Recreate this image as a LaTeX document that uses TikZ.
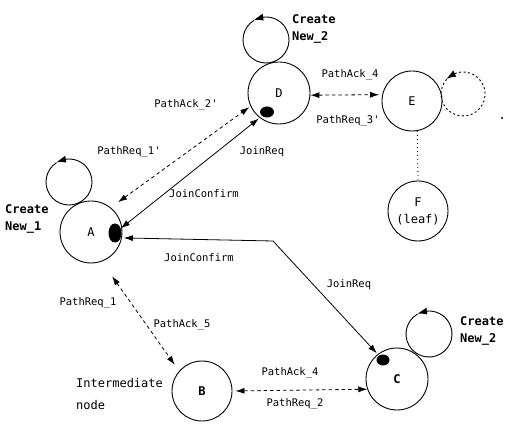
\documentclass[tikz,border=0pt]{standalone}
\usepackage{fontspec}
\setmonofont{DejaVu Sans Mono}
\usetikzlibrary{arrows.meta,bending,shapes.geometric}
\begin{document}
\begin{tikzpicture}[x=1pt,y=1pt]
\tikzstyle{every node}=[font=\ttfamily]
\tikzstyle{station}=[draw,circle,line width=0.9pt,minimum size=62pt,inner sep=0pt,align=center,font=\ttfamily\fontsize{12}{17}\selectfont]
\tikzstyle{blob}=[fill,ellipse,inner sep=0pt]
\tikzstyle{msg}=[draw,line width=0.8pt,dash pattern=on 3.5pt off 3pt,{Latex[length=9pt,width=6pt]}-{Latex[length=9pt,width=6pt]}]
\tikzstyle{joinline}=[draw,line width=0.8pt,{Latex[length=9pt,width=6pt]}-{Latex[length=9pt,width=6pt]}]
\tikzstyle{selfloop}=[draw,line width=0.9pt,-{Latex[length=10pt,width=7pt,bend]}]
\tikzstyle{tag}=[font=\ttfamily\fontsize{10.5}{12}\selectfont,inner sep=1pt]
\tikzstyle{create}=[font=\ttfamily\bfseries\fontsize{12}{16.5}\selectfont,align=left,anchor=west,inner sep=0pt]
\useasboundingbox (0,0) rectangle (505,423);
% stations
\node[station] (A) at (91,191) {A};
\node[station] (D) at (279,330) {D};
\node[station,minimum size=60pt] (E) at (412,322) {E};
\node[station,minimum size=60pt] (F) at (418,212) {F\\(leaf)};
\node[station,font=\ttfamily\bfseries\fontsize{12}{17}\selectfont] (C) at (397,44) {C};
\node[station,minimum size=60pt,font=\ttfamily\bfseries\fontsize{12}{17}\selectfont] (B) at (202,32) {B};
\node[blob,minimum width=13pt,minimum height=19pt] (dot A) at (115,190) {};
\node[blob,minimum width=14pt,minimum height=11pt] (dot D) at (267,311) {};
\node[blob,minimum width=13pt,minimum height=11pt] (dot C) at (383,63) {};
\coordinate (bend) at (273,182);
% self loops
\draw[selfloop] (A) ++(-22,50) ++(-237:23) arc[start angle=-237,end angle=123,radius=23];
\draw[selfloop] (D) ++(-13,53) ++(-238:23) arc[start angle=-238,end angle=122,radius=23];
\draw[selfloop] (C) ++(32,45) ++(-240:23) arc[start angle=-240,end angle=120,radius=23];
\draw[selfloop,dash pattern=on 2pt off 2.5pt] (E) ++(51,7) ++(-222:22) arc[start angle=-222,end angle=138,radius=22];
\fill (502,305) circle (1.2pt);
% join messages
\draw[joinline,shorten >=4pt] (dot A) -- (dot D);
\draw[joinline,shorten <=3pt,shorten >=3pt] (dot A.-40) -- (bend) -- (dot C);
% path messages
\draw[msg,shorten <=9pt,shorten >=1.5pt] (A.51) -- (D.205);
\draw[msg,shorten <=18pt,shorten >=7.5pt] (A.-70) -- (B.139);
\draw[msg,shorten <=3pt] (B.east) -- (C.199);
\draw[msg,shorten >=3pt] (D.-4) -- (E.168);
\draw[line width=0.8pt,dash pattern=on 1pt off 3pt] (E.-80) -- (F.north);
% labels
\node[create] (new 1) at (5,204) {Create\\New\_1};
\node[create] (new 2 top) at (292,394) {Create\\New\_2};
\node[create] (new 2 bottom) at (460,92) {Create\\New\_2};
\node[tag] (ack 2) at (186,318) {PathAck\_2'};
\node[tag] (req 1 top) at (129,271) {PathReq\_1'};
\node[tag] (confirm top) at (204,229) {JoinConfirm};
\node[tag] (join top) at (262,271) {JoinReq};
\node[tag] (confirm bottom) at (199,165) {JoinConfirm};
\node[tag] (join bottom) at (349,138) {JoinReq};
\node[tag] (req 1) at (88,120) {PathReq\_1};
\node[tag] (ack 5) at (182,98) {PathAck\_5};
\node[tag] (ack 4 bottom) at (290,50) {PathAck\_4};
\node[tag] (req 2) at (295,19) {PathReq\_2};
\node[tag] (ack 4 top) at (350,348) {PathAck\_4};
\node[tag] (req 3) at (348,302) {PathReq\_3'};
\node[tag,font=\ttfamily\fontsize{12}{22}\selectfont,align=left,anchor=west] (mid) at (75,28.5) {Intermediate\\node};
\end{tikzpicture}
\end{document}
